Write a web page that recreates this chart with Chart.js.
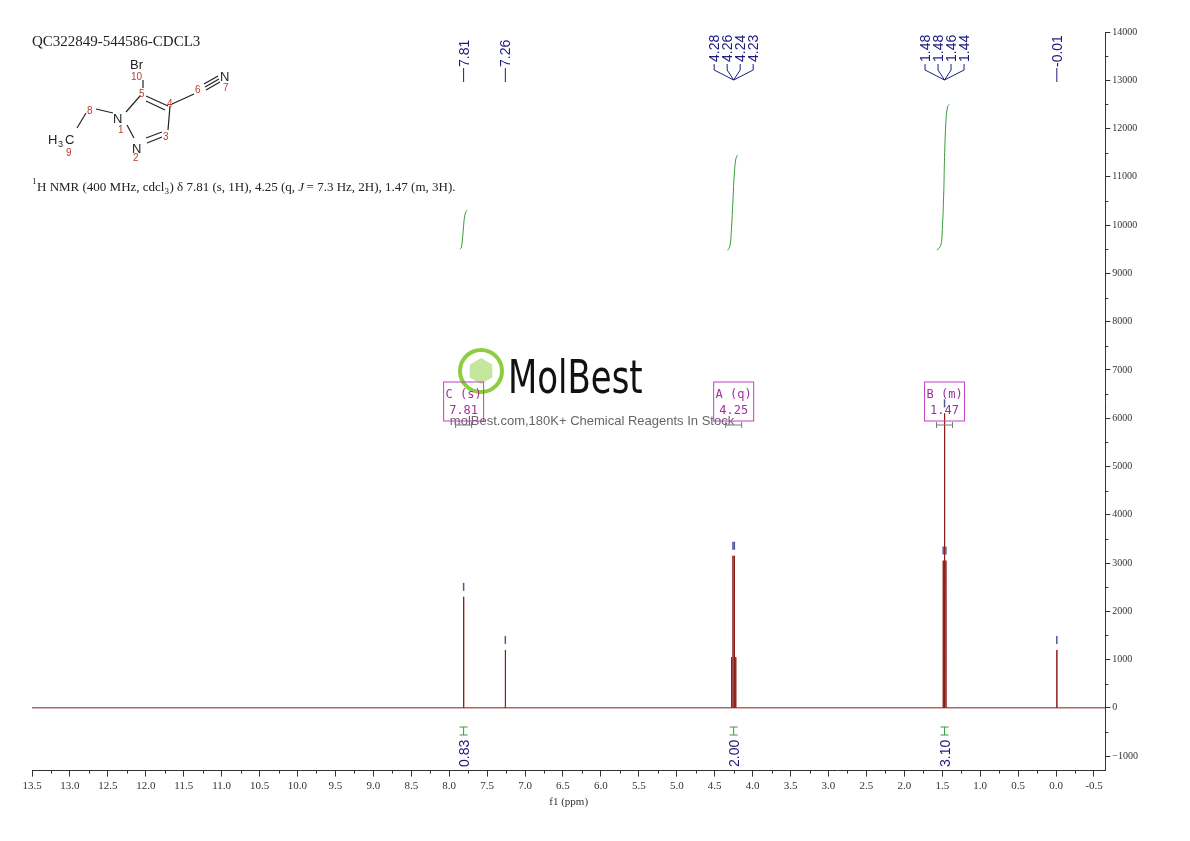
<!DOCTYPE html>
<html>
<head>
<meta charset="utf-8">
<script src="https://cdn.jsdelivr.net/npm/chart.js@4/dist/chart.umd.min.js"></script>
<style>
  body { margin: 0; background: #fff; }
  #wrap { width: 1190px; height: 841px; }
</style>
</head>
<body>
<div id="wrap"><canvas id="mycanvas" width="1190" height="841"></canvas></div>
<script>
// peak positions (ppm) and heights
var peakPpm    = [7.810, 7.260, 4.277, 4.259, 4.241, 4.223, 1.488, 1.470, 1.452, -0.010];
var peakHeight = [2300,  1200,  1050,  3150,  3150,  1050,  3050,  6100,  3050,  1200];

// integral curves: [ppm, value]
var int1 = [[7.86, 9500], [7.84, 9540], [7.82, 9800], [7.80, 10150], [7.78, 10280], [7.76, 10300]];
var int2 = [[4.33, 9480], [4.30, 9560], [4.28, 9900], [4.26, 10500], [4.24, 11100], [4.22, 11380], [4.20, 11450]];
var int3 = [[1.57, 9480], [1.52, 9580], [1.50, 9900], [1.48, 10700], [1.47, 11400], [1.45, 12200], [1.43, 12450], [1.41, 12500]];

var intLabels = ['0.83', '2.00', '3.10'];
var intCenters = [7.81, 4.25, 1.47];

var peakGroups = [
  { labels: ['7.81'], at: 7.81 },
  { labels: ['7.26'], at: 7.26 },
  { labels: ['4.28', '4.26', '4.24', '4.23'], at: 4.25 },
  { labels: ['1.48', '1.48', '1.46', '1.44'], at: 1.47 },
  { labels: ['-0.01'], at: -0.01 }
];

var boxes = [
  { name: 'C (s)', val: '7.81', at: 7.81 },
  { name: 'A (q)', val: '4.25', at: 4.25 },
  { name: 'B (m)', val: '1.47', at: 1.47 }
];

var xTicks = [];
for (var t = 13.5; t >= -0.5; t -= 0.5) xTicks.push(Math.round(t * 10) / 10);

// build spectrum as sticks on a flat baseline
var spec = [{ x: 13.5, y: 0 }];
var order = peakPpm.map(function (p, i) { return i; }).sort(function (a, b) { return peakPpm[b] - peakPpm[a]; });
order.forEach(function (i) {
  spec.push({ x: peakPpm[i] + 0.002, y: 0 });
  spec.push({ x: peakPpm[i], y: peakHeight[i] });
  spec.push({ x: peakPpm[i] - 0.002, y: 0 });
});
spec.push({ x: -0.65, y: 0 });

function pts(a) { return a.map(function (p) { return { x: p[0], y: p[1] }; }); }

var blue = '#1c1c7c';

var extras = {
  id: 'extras',
  afterDraw: function (chart) {
    var c = chart.ctx, xs = chart.scales.x, ys = chart.scales.y;
    c.save();
    function ln(a, b, d, e) { c.beginPath(); c.moveTo(a, b); c.lineTo(d, e); c.stroke(); }

    // minor x ticks
    c.strokeStyle = '#333'; c.lineWidth = 1;
    var yb = ys.getPixelForValue(ys.min);
    for (var v = 13.25; v > -0.6; v -= 0.5) {
      var px = Math.round(xs.getPixelForValue(v)) + 0.5;
      ln(px, yb, px, yb + 3);
    }
    // minor y ticks
    var xr = xs.right;
    for (var w = -500; w <= 14000; w += 1000) {
      var py = Math.round(ys.getPixelForValue(w)) + 0.5;
      ln(xr, py, xr + 3, py);
    }

    // title
    c.fillStyle = '#222';
    c.font = '15px "Liberation Serif"';
    c.fillText('QC322849-544586-CDCL3', 32, 46);

    // NMR description
    c.font = '9px "Liberation Serif"';
    c.fillText('1', 32, 184);
    c.font = '13px "Liberation Serif"';
    c.fillText('H NMR (400 MHz, cdcl', 37, 191);
    var w1 = c.measureText('H NMR (400 MHz, cdcl').width;
    c.font = '9px "Liberation Serif"';
    c.fillText('3', 37 + w1, 194);
    c.font = '13px "Liberation Serif"';
    c.fillText(') \u03b4 7.81 (s, 1H), 4.25 (q, ', 42 + w1, 191);
    var w2 = c.measureText(') \u03b4 7.81 (s, 1H), 4.25 (q, ').width;
    c.font = 'italic 13px "Liberation Serif"';
    c.fillText('J', 42 + w1 + w2, 191);
    c.font = '13px "Liberation Serif"';
    c.fillText(' = 7.3 Hz, 2H), 1.47 (m, 3H).', 47 + w1 + w2, 191);

    // structure
    c.strokeStyle = '#222'; c.lineWidth = 1.2;
    ln(143, 80, 143, 88);
    ln(146, 96, 168, 106);
    ln(146, 101, 165, 110);
    ln(170, 106, 168, 130);
    ln(162, 137, 147, 143);
    ln(162, 132, 146, 138);
    ln(127, 125, 134, 138);
    ln(126, 112, 140, 96);
    ln(96, 109, 113, 113);
    ln(77, 128, 86, 113);
    ln(172, 104, 194, 94);
    ln(205, 87, 219, 79);
    ln(204, 84, 218, 76);
    ln(206, 90, 220, 82);
    c.fillStyle = '#222'; c.font = '13px "Liberation Sans"';
    c.fillText('Br', 130, 69);
    c.fillText('N', 113, 123);
    c.fillText('N', 132, 153);
    c.fillText('N', 220, 81);
    c.fillText('H', 48, 144);
    c.fillText('C', 65, 144);
    c.font = '9px "Liberation Sans"'; c.fillText('3', 58, 147);
    c.fillStyle = '#c0392b'; c.font = '10px "Liberation Sans"';
    c.fillText('10', 131, 80); c.fillText('5', 139, 97); c.fillText('4', 167, 107);
    c.fillText('3', 163, 140); c.fillText('2', 133, 161); c.fillText('1', 118, 133);
    c.fillText('8', 87, 114); c.fillText('9', 66, 156); c.fillText('6', 195, 93);
    c.fillText('7', 223, 91);

    // peak labels
    c.font = '14px "Liberation Sans"';
    c.fillStyle = blue; c.strokeStyle = blue; c.lineWidth = 1;
    peakGroups.forEach(function (g) {
      var cx = xs.getPixelForValue(g.at);
      var n = g.labels.length;
      g.labels.forEach(function (lab, k) {
        var lx = n === 1 ? cx : cx + (k - (n - 1) / 2) * 13;
        c.save();
        c.translate(lx + 5, n === 1 ? 67 : 62);
        c.rotate(-Math.PI / 2);
        c.fillText(lab, 0, 0);
        c.restore();
        if (n === 1) {
          ln(cx, 68, cx, 82);
        } else {
          ln(lx, 64, lx, 70);
          ln(lx, 70, cx, 80);
        }
      });
    });

    // integral labels
    intCenters.forEach(function (p, k) {
      var px = xs.getPixelForValue(p);
      c.fillStyle = blue;
      c.save(); c.translate(px + 5, 767); c.rotate(-Math.PI / 2);
      c.fillText(intLabels[k], 0, 0); c.restore();
      c.strokeStyle = '#3a9a3a';
      ln(px - 4, 727, px + 4, 727); ln(px, 727, px, 735); ln(px - 4, 735, px + 4, 735);
    });

    // watermark logo
    c.strokeStyle = '#8ccf3c'; c.lineWidth = 4;
    c.beginPath(); c.arc(481, 371, 21, 0, Math.PI * 2); c.stroke();
    c.fillStyle = 'rgba(140,207,60,0.5)';
    c.beginPath();
    for (var h = 0; h < 6; h++) {
      var an = Math.PI / 6 + h * Math.PI / 3;
      var hx = 481 + 13 * Math.cos(an), hy = 371 + 13 * Math.sin(an);
      if (h === 0) c.moveTo(hx, hy); else c.lineTo(hx, hy);
    }
    c.closePath(); c.fill();
    c.fillStyle = '#111'; c.font = '46px "DejaVu Sans Condensed"';
    c.save(); c.translate(508, 393); c.scale(0.82, 1);
    c.fillText('MolBest', 0, 0); c.restore();
    c.fillStyle = '#666'; c.font = '13px "Liberation Sans"';
    c.textAlign = 'center';
    c.fillText('molBest.com,180K+ Chemical Reagents In Stock', 592, 425);

    // multiplet boxes
    boxes.forEach(function (b) {
      var px = xs.getPixelForValue(b.at);
      c.strokeStyle = '#c040c0'; c.lineWidth = 1;
      c.strokeRect(px - 20, 382, 40, 39);
      c.fillStyle = '#a030a0'; c.font = '12px "DejaVu Sans Mono"';
      c.fillText(b.name, px, 398);
      c.fillText(b.val, px, 414);
      c.strokeStyle = '#777';
      ln(px - 8, 425, px + 8, 425); ln(px - 8, 422, px - 8, 428); ln(px + 8, 422, px + 8, 428);
    });

    // small peak markers
    c.strokeStyle = '#55559a'; c.lineWidth = 1.5;
    peakPpm.forEach(function (p, i) {
      if (i >= 2 && i <= 8 && peakHeight[i] < 3000) return;
      var px = xs.getPixelForValue(p), py = ys.getPixelForValue(peakHeight[i]);
      ln(px, py - 14, px, py - 6);
    });
    c.restore();
  }
};

new Chart(document.getElementById('mycanvas'), {
  type: 'scatter',
  data: {
    datasets: [
      { data: spec, showLine: true, borderColor: '#8b1a1a', borderWidth: 1, pointRadius: 0, tension: 0 },
      { data: pts(int1), showLine: true, borderColor: '#3a9a3a', borderWidth: 1, pointRadius: 0, tension: 0.4 },
      { data: pts(int2), showLine: true, borderColor: '#3a9a3a', borderWidth: 1, pointRadius: 0, tension: 0.4 },
      { data: pts(int3), showLine: true, borderColor: '#3a9a3a', borderWidth: 1, pointRadius: 0, tension: 0.4 }
    ]
  },
  options: {
    responsive: false,
    animation: false,
    layout: { padding: { left: 32, right: 50, top: 32, bottom: 32 } },
    plugins: { legend: { display: false }, tooltip: { enabled: false } },
    scales: {
      x: {
        type: 'linear', reverse: true, min: -0.65, max: 13.5,
        afterBuildTicks: function (s) { s.ticks = xTicks.map(function (v) { return { value: v }; }); },
        ticks: {
          autoSkip: false, maxRotation: 0, color: '#333',
          font: { family: 'Liberation Serif', size: 11 },
          callback: function (v) { return v.toFixed(1); }
        },
        grid: { drawOnChartArea: false, tickLength: 6, color: '#333' },
        border: { color: '#333' },
        title: { display: true, text: 'f1 (ppm)', color: '#333', padding: 0, font: { family: 'Liberation Serif', size: 11 } }
      },
      y: {
        position: 'right', min: -1300, max: 14000,
        afterBuildTicks: function (s) {
          var a = []; for (var v = -1000; v <= 14000; v += 1000) a.push({ value: v }); s.ticks = a;
        },
        ticks: {
          color: '#333', padding: 2,
          font: { family: 'Liberation Serif', size: 10 },
          callback: function (v) { return v < 0 ? '\u22121000' : String(v); }
        },
        grid: { drawOnChartArea: false, tickLength: 5, color: '#333' },
        border: { color: '#333' }
      }
    }
  },
  plugins: [extras]
});
</script>
</body>
</html>
